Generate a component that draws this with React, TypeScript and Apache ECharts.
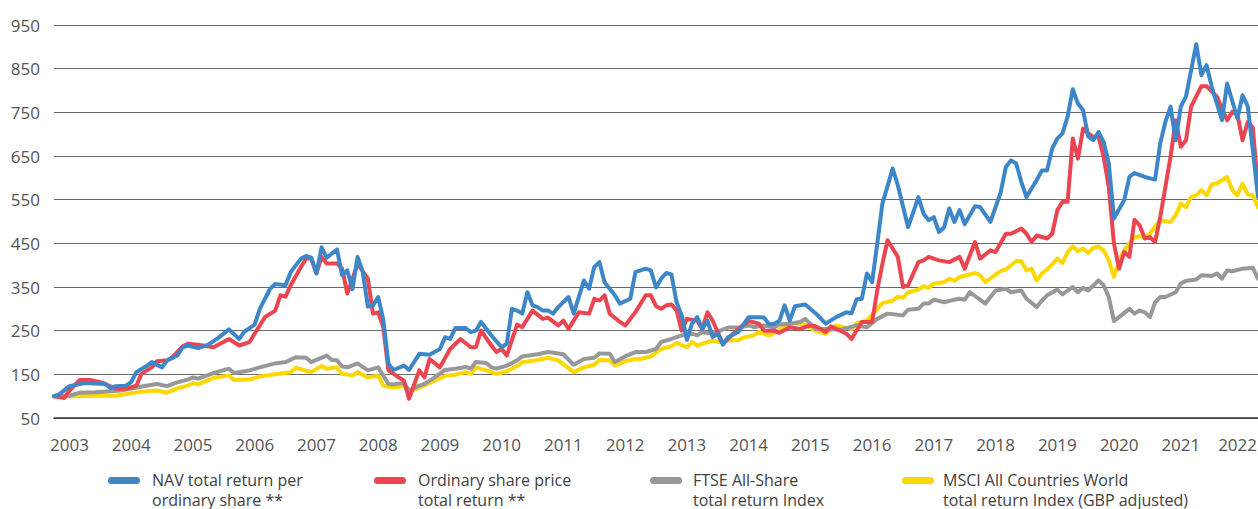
import React, { useEffect, useRef } from "react";
import * as echarts from "echarts";

// Monthly categories, Oct 2002 .. Apr 2022 (index 0..234)
const startYear = 2002;
const startMonth = 10;
const monthCount = 235;
const categories: string[] = [];
for (let i = 0; i < monthCount; i++) {
  const t = startMonth - 1 + i;
  const y = startYear + Math.floor(t / 12);
  const m = (t % 12) + 1;
  categories.push(`${y}-${m < 10 ? "0" + m : m}`);
}

const yTicks = [50, 150, 250, 350, 450, 550, 650, 750, 850, 950];

const navSeries: [number, number][] = [[0,100],[1,104],[3,123],[6,130],[10,128],[11,118],[12,123],[14,124],[15,132],[16,155],[18,169],[19,178],[21,166],[22,182],[24,193],[25,212],[26,216],[28,210],[30,218],[32,234],[34,253],[36,231],[37,248],[39,264],[40,300],[42,346],[43,357],[45,354],[46,384],[48,415],[49,421],[50,417],[51,381],[52,441],[53,417],[55,436],[56,377],[57,388],[58,345],[59,419],[60,385],[61,305],[62,308],[63,327],[64,275],[65,174],[66,160],[68,170],[69,160],[71,197],[73,195],[75,208],[76,235],[77,231],[78,256],[80,256],[81,247],[82,250],[83,270],[85,239],[87,212],[88,220],[89,300],[90,296],[91,289],[92,338],[93,308],[94,304],[95,296],[96,296],[97,289],[98,304],[100,327],[101,289],[103,365],[104,346],[105,396],[106,407],[107,361],[109,331],[110,312],[112,323],[113,384],[115,392],[116,388],[117,349],[118,369],[119,382],[120,379],[121,315],[122,285],[123,229],[124,266],[125,281],[126,254],[127,273],[128,235],[129,243],[130,218],[131,235],[133,247],[135,281],[137,281],[138,280],[139,264],[140,266],[141,273],[142,308],[143,273],[144,306],[146,310],[148,290],[150,266],[152,281],[154,292],[155,290],[156,322],[157,323],[158,381],[159,361],[160,449],[161,541],[163,621],[164,583],[166,487],[168,556],[169,518],[170,503],[171,510],[172,476],[173,487],[174,530],[175,499],[176,526],[177,494],[179,535],[180,533],[182,499],[184,567],[185,625],[186,640],[187,633],[188,591],[189,556],[191,595],[192,617],[193,617],[194,667],[195,690],[196,702],[197,740],[198,803],[199,770],[200,755],[201,695],[202,686],[203,705],[204,682],[205,633],[206,507],[208,549],[209,602],[210,611],[212,602],[214,596],[215,679],[216,728],[217,763],[218,686],[219,763],[220,786],[222,906],[223,835],[224,858],[225,809],[227,732],[228,816],[230,736],[231,789],[232,764],[233,663],[234,556]];

const shareSeries: [number, number][] = [[0,100],[2,96],[3,113],[5,137],[7,137],[9,132],[10,128],[12,117],[14,117],[16,124],[17,151],[19,166],[20,180],[22,182],[23,189],[25,214],[26,220],[28,218],[31,212],[34,231],[36,216],[38,224],[39,243],[41,281],[43,296],[44,331],[45,328],[46,354],[48,396],[49,415],[50,415],[51,381],[52,419],[53,404],[55,404],[56,392],[57,335],[59,403],[61,369],[62,289],[63,292],[64,258],[65,159],[67,143],[68,136],[69,94],[71,159],[72,143],[73,185],[75,166],[77,208],[79,231],[81,212],[82,212],[83,250],[85,216],[86,201],[87,208],[88,193],[90,264],[91,258],[93,296],[95,277],[96,280],[98,262],[99,273],[100,254],[102,292],[104,289],[105,323],[106,319],[107,331],[108,289],[110,270],[111,262],[113,292],[115,331],[116,331],[117,306],[118,300],[119,308],[120,310],[121,296],[122,250],[123,277],[125,273],[126,254],[127,292],[128,273],[129,247],[130,220],[132,243],[133,254],[135,272],[137,266],[138,250],[140,250],[141,245],[143,258],[145,254],[147,262],[148,260],[150,247],[151,260],[154,243],[155,231],[157,270],[159,270],[160,342],[161,403],[162,457],[164,419],[165,350],[166,354],[168,407],[169,411],[170,419],[172,411],[174,407],[176,419],[177,392],[179,453],[180,415],[182,434],[183,430],[185,472],[186,472],[188,484],[189,472],[190,453],[191,468],[193,461],[194,472],[195,526],[196,545],[197,545],[198,690],[199,644],[200,713],[201,702],[202,694],[203,694],[204,648],[205,579],[206,450],[207,392],[208,430],[209,419],[210,504],[211,491],[212,461],[213,464],[214,453],[215,510],[216,579],[217,648],[218,732],[219,671],[220,686],[221,763],[223,810],[224,810],[226,786],[228,732],[229,751],[230,745],[231,686],[232,728],[233,715],[234,575]];

const ftseSeries: [number, number][] = [[0,100],[3,101],[5,108],[8,109],[11,111],[13,113],[16,120],[19,126],[20,128],[22,123],[24,132],[26,138],[27,143],[28,140],[31,153],[34,163],[35,153],[38,159],[40,166],[43,175],[45,178],[47,189],[49,188],[50,178],[51,183],[53,193],[54,183],[55,182],[56,168],[57,166],[59,175],[61,159],[63,166],[65,128],[66,127],[68,130],[69,113],[71,124],[72,128],[74,143],[76,160],[78,163],[80,167],[81,163],[82,178],[84,176],[85,166],[86,163],[88,170],[90,182],[91,191],[94,196],[96,201],[99,196],[101,172],[103,185],[105,188],[106,198],[108,197],[109,178],[111,191],[113,201],[115,201],[117,208],[118,224],[120,231],[121,235],[122,239],[124,243],[125,239],[126,247],[127,244],[129,248],[131,257],[133,257],[135,262],[136,258],[138,262],[140,258],[141,264],[143,266],[145,270],[146,277],[148,254],[150,254],[153,252],[156,262],[158,258],[160,277],[162,289],[165,285],[166,298],[168,300],[169,312],[170,312],[171,321],[173,315],[175,321],[176,323],[177,321],[178,338],[181,312],[183,342],[185,346],[186,338],[188,342],[189,323],[191,304],[192,319],[193,331],[195,344],[196,333],[197,342],[198,350],[199,338],[200,348],[201,342],[203,365],[204,354],[205,327],[206,272],[207,281],[209,300],[210,289],[211,296],[212,292],[213,281],[214,315],[215,327],[216,327],[218,338],[219,358],[220,364],[222,367],[223,377],[225,375],[226,381],[227,369],[228,388],[229,386],[231,392],[233,394],[234,369]];

const msciSeries: [number, number][] = [[0,100],[4,100],[8,101],[12,101],[15,107],[18,111],[20,113],[22,108],[24,118],[26,124],[27,130],[28,127],[31,142],[34,147],[35,137],[38,138],[40,145],[43,150],[46,155],[47,165],[50,155],[52,169],[53,163],[55,166],[56,150],[57,150],[58,147],[59,155],[61,143],[63,147],[64,124],[66,120],[68,124],[69,109],[71,120],[72,124],[74,136],[76,146],[78,149],[80,155],[81,151],[82,166],[84,159],[86,151],[88,157],[90,169],[91,178],[94,183],[96,188],[98,182],[101,155],[103,166],[105,172],[106,183],[108,182],[109,170],[111,180],[113,185],[114,185],[116,191],[118,208],[120,214],[121,222],[123,212],[124,224],[125,216],[127,224],[128,227],[130,222],[131,228],[133,228],[134,234],[136,239],[137,247],[139,239],[140,245],[143,268],[146,264],[148,250],[150,243],[152,262],[155,254],[156,267],[158,273],[160,300],[161,313],[163,319],[164,328],[165,325],[166,338],[168,344],[169,352],[170,348],[171,358],[173,361],[174,369],[175,364],[176,373],[179,382],[180,377],[181,361],[184,387],[185,390],[187,409],[188,409],[189,388],[190,392],[191,365],[192,381],[193,390],[195,415],[196,405],[197,430],[198,443],[199,432],[200,438],[201,428],[202,440],[203,443],[204,434],[205,411],[206,373],[207,411],[208,434],[210,464],[211,466],[212,464],[213,472],[214,488],[215,503],[217,499],[218,514],[219,541],[220,533],[221,556],[222,560],[223,572],[224,560],[225,585],[226,587],[228,602],[229,572],[230,560],[231,587],[232,562],[233,560],[234,533]];

const legendLine1 = [
  "NAV total return per",
  "Ordinary share price",
  "FTSE All-Share",
  "MSCI All Countries World",
];
const legendLine2 = [
  "ordinary share **",
  "total return **",
  "total return Index",
  "total return Index (GBP adjusted)",
];
const seriesColors = ["#3d87c9", "#ea4651", "#98989a", "#fdd700"];

const legendIconX = [108, 374, 650, 902];
const legendTextX = [152, 418, 693, 943];

export default function App() {
  const ref = useRef<HTMLDivElement>(null);
  useEffect(() => {
    document.body.style.margin = "0";
    document.body.style.overflow = "hidden";
    if (!ref.current) return;
    const chart = echarts.init(ref.current, undefined, { renderer: "svg" });
    const font = '"Open Sans", "DejaVu Sans", sans-serif';
    const lineSeries = (name: string, data: [number, number][], color: string, z: number) => ({
      name,
      type: "line",
      data,
      showSymbol: false,
      symbol: "none",
      z,
      lineStyle: { color, width: 4, cap: "round", join: "round" },
      itemStyle: { color },
    });
    const graphic: any[] = [];
    legendLine1.forEach((n, i) => {
      graphic.push({
        type: "rect",
        shape: { x: legendIconX[i], y: 477, width: 32, height: 7, r: 3.5 },
        style: { fill: seriesColors[i] },
      });
      graphic.push({
        type: "text",
        x: legendTextX[i],
        y: 479.5,
        style: {
          text: n,
          fill: "#404040",
          font: `16px ${font}`,
          verticalAlign: "middle",
          align: "left",
        },
      });
      graphic.push({
        type: "text",
        x: legendTextX[i],
        y: 499.5,
        style: {
          text: legendLine2[i],
          fill: "#404040",
          font: `16px ${font}`,
          verticalAlign: "middle",
          align: "left",
        },
      });
    });
    const lastYear = categories[231].slice(0, 4);
    chart.setOption({
      animation: false,
      backgroundColor: "#fff",
      grid: { left: 54, right: 0, top: 25, bottom: 91, containLabel: false, outerBoundsMode: "none" },
      xAxis: {
        type: "category",
        data: categories,
        boundaryGap: false,
        axisLine: { show: true, lineStyle: { color: "#333", width: 1.5 } },
        axisTick: { show: false },
        splitLine: { show: false },
        axisLabel: {
          interval: (index: number, value: string) => value.slice(5) === "01",
          formatter: (value: string) => {
            const yr = value.slice(0, 4);
            return yr === lastYear ? `{e|${yr}}` : yr;
          },
          rich: {
            e: { color: "#555", fontFamily: font, fontSize: 17, padding: [0, 10, 0, 0] },
          },
          color: "#555",
          fontFamily: font,
          fontSize: 17,
          margin: 18,
          hideOverlap: false,
        },
      },
      yAxis: {
        type: "value",
        min: 50,
        max: 950,
        interval: 100,
        axisLine: { show: false },
        axisTick: { show: false },
        splitLine: { show: true, lineStyle: { color: "#6a6a6a", width: 1 } },
        axisLabel: {
          color: "#555",
          fontFamily: font,
          fontSize: 17,
          margin: 14,
          formatter: (v: number) => (yTicks.indexOf(v) >= 0 ? String(v) : ""),
        },
      },
      series: [
        lineSeries("MSCI All Countries World total return Index (GBP adjusted)", msciSeries, seriesColors[3], 2),
        lineSeries("FTSE All-Share total return Index", ftseSeries, seriesColors[2], 3),
        lineSeries("Ordinary share price total return **", shareSeries, seriesColors[1], 4),
        lineSeries("NAV total return per ordinary share **", navSeries, seriesColors[0], 5),
      ],
      graphic,
    });
    return () => chart.dispose();
  }, []);
  return <div ref={ref} style={{ width: 1258, height: 509 }} />;
}
